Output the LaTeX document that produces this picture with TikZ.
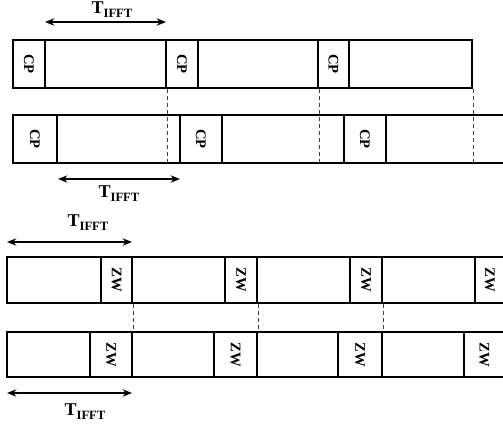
\documentclass[tikz,border=0pt]{standalone}
\usepackage{fontspec}
\setmainfont{Liberation Serif}
\usetikzlibrary{arrows.meta,fit}

\newcommand{\tifft}{{\fontsize{13.5}{15}\selectfont\bfseries T\raisebox{-3pt}{\fontsize{9.5}{10}\selectfont IFFT}}}

\tikzset{
	cell/.style={draw, line width=2.2pt, inner sep=0pt},
	cp/.style={cell, label={[rotate=-90, font=\fontsize{11}{12}\selectfont\bfseries]center:CP}},
	zw/.style={cell, label={[rotate=-90, font=\fontsize{11}{12}\selectfont\bfseries]center:ZW}},
	guide/.style={line width=0.9pt, draw=black!75, dash pattern=on 3pt off 2.2pt},
	span/.style={line width=1.2pt, {Stealth[length=7pt,width=5.5pt]}-{Stealth[length=7pt,width=5.5pt]}}
}

\begin{document}
\begin{tikzpicture}[x=0.75pt, y=-0.75pt]
	\useasboundingbox (0,0) rectangle (503,428);
	\clip (0,0) rectangle (503,428);
	% first pair: cyclic prefix
	\node[cp, fit={(13,40) (45,88)}] (a1) {};
	\node[cell, fit={(45,40) (166,88)}] (a2) {};
	\node[cp, fit={(166,40) (198,88)}] (a3) {};
	\node[cell, fit={(198,40) (318,88)}] (a4) {};
	\node[cp, fit={(318,40) (349,88)}] (a5) {};
	\node[cell, fit={(349,40) (472,88)}] (a6) {};
	
	\node[cp, fit={(13,115) (57,163)}] (b1) {};
	\node[cell, fit={(57,115) (180,163)}] (b2) {};
	\node[cp, fit={(180,115) (222,163)}] (b3) {};
	\node[cell, fit={(222,115) (344,163)}] (b4) {};
	\node[cp, fit={(344,115) (386,163)}] (b5) {};
	\node[cell, fit={(386,115) (515,163)}] (b6) {};
	
	\draw[guide] (a2.south east) -- (a2.south east |- b2.south);
	\draw[guide] (a4.south east) -- (a4.south east |- b4.south);
	\draw[guide] (a6.south east) -- (a6.south east |- b6.south);
	
	\coordinate (s1) at (45,22);
	\coordinate (e1) at (166,22);
	\draw[span] (s1) -- (e1);
	\node (l1) at (112,10) {\tifft};
	
	\coordinate (s2) at (58,179);
	\coordinate (e2) at (180,179);
	\draw[span] (s2) -- (e2);
	\node (l2) at (119,194) {\tifft};
	
	% second pair: zero word
	\node[cell, fit={(7,257) (101,303)}] (c1) {};
	\node[zw, fit={(101,257) (132,303)}] (c2) {};
	\node[cell, fit={(132,257) (225,303)}] (c3) {};
	\node[zw, fit={(225,257) (257,303)}] (c4) {};
	\node[cell, fit={(257,257) (350,303)}] (c5) {};
	\node[zw, fit={(350,257) (382,303)}] (c6) {};
	\node[cell, fit={(382,257) (475,303)}] (c7) {};
	\node[zw, fit={(475,257) (504.6,303)}] (c8) {};
	
	\node[cell, fit={(7,332) (90,377)}] (d1) {};
	\node[zw, fit={(90,332) (132,377)}] (d2) {};
	\node[cell, fit={(132,332) (214,377)}] (d3) {};
	\node[zw, fit={(214,332) (257,377)}] (d4) {};
	\node[cell, fit={(257,332) (338,377)}] (d5) {};
	\node[zw, fit={(338,332) (382,377)}] (d6) {};
	\node[cell, fit={(382,332) (464,377)}] (d7) {};
	\node[zw, fit={(464,332) (504.6,377)}] (d8) {};
	
	\draw[guide] (c2.south east) -- (d2.north east);
	\draw[guide] (c4.south east) -- (d4.north east);
	\draw[guide] (c6.south east) -- (d6.north east);
	
	\coordinate (s3) at (7,242);
	\coordinate (e3) at (132,242);
	\draw[span] (s3) -- (e3);
	\node (l3) at (88,223) {\tifft};
	
	\coordinate (s4) at (7,393);
	\coordinate (e4) at (132,393);
	\draw[span] (s4) -- (e4);
	\node (l4) at (85,412) {\tifft};
\end{tikzpicture}
\end{document}
